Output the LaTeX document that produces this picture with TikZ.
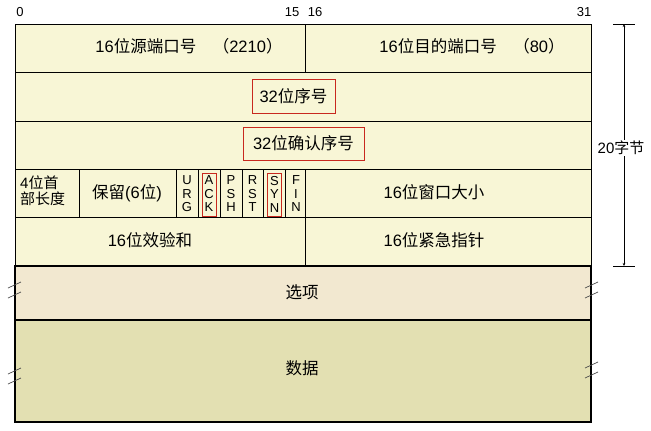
\documentclass[tikz,border=0pt]{standalone}
\usepackage{fontspec}
\setmainfont{Liberation Sans}
\newfontfamily\cjk{Noto Sans CJK SC}
\usetikzlibrary{arrows.meta}
\definecolor{hdryellow}{RGB}{248,246,214}
\definecolor{optbeige}{RGB}{242,232,208}
\definecolor{dataolive}{RGB}{227,224,178}
\definecolor{markred}{RGB}{200,40,30}

\begin{document}
\begin{tikzpicture}[x=1pt,y=-1pt,
    lbl/.style={font=\fontsize{16.5}{18}\selectfont,inner sep=1pt},
    bitno/.style={font=\fontsize{13}{14}\selectfont,inner sep=1pt},
    flag/.style={font=\fontsize{13}{13.5}\selectfont,align=center,inner sep=0pt},
    redbox/.style={draw=markred,line width=0.8pt},
    brk/.style={line width=0.7pt,black!70},
    thick line/.style={line width=2.2pt}]

\useasboundingbox (0,0) rectangle (651,431);

% header: 20 bytes
\filldraw[fill=hdryellow,line width=0.8pt] (15,24) rectangle (591,266);
\foreach \y in {72,121,169,217}
  \draw[line width=0.8pt] (15,\y) -- (591,\y);
\draw[line width=0.8pt] (305,24) -- (305,72);
\draw[line width=0.8pt] (305,169) -- (305,266);
\foreach \x in {79,176,198,220,242,263,285}
  \draw[line width=0.8pt] (\x,169) -- (\x,217);

% options and data
\filldraw[fill=optbeige,thick line] (15,266) rectangle (591,320);
\filldraw[fill=dataolive,thick line] (15,320) rectangle (591,422);

% bit numbers
\node[bitno] (b0) at (20,12) {0};
\node[bitno] (b15) at (292,12) {15};
\node[bitno] (b16) at (315,12) {16};
\node[bitno] (b31) at (584,12) {31};

% fields
\node[lbl] (srcport) at (189,46) {16{\cjk 位源端口号　（}2210{\cjk ）}};
\node[lbl] (dstport) at (472,46) {16{\cjk 位目的端口号　（}80{\cjk ）}};
\node[lbl,redbox,minimum width=83,minimum height=34] (seqno) at (293.5,96) {32{\cjk 位序号}};
\node[lbl,redbox,minimum width=121,minimum height=33] (ackno) at (303.5,143.5) {32{\cjk 位确认序号}};
\node[lbl,font=\fontsize{15}{16}\selectfont,align=left,anchor=west] (hlen) at (19,191) {4{\cjk 位首}\\{\cjk 部长度}};
\node[lbl] (rsv) at (127,193) {{\cjk 保留}(6{\cjk 位})};
\foreach \n/\x/\t in {urg/187/U\\R\\G, ack/209/A\\C\\K, psh/231/P\\S\\H,
                      rst/252.5/R\\S\\T, syn/274.5/S\\Y\\N, fin/296/F\\I\\N}
  \node[flag] (\n) at (\x,194) {\t};
\node[redbox,minimum width=14,minimum height=43] (ackmark) at (209,194.5) {};
\node[redbox,minimum width=14,minimum height=43] (synmark) at (274.5,194.5) {};
\node[lbl] (win) at (434,192) {16{\cjk 位窗口大小}};
\node[lbl] (csum) at (150,240) {16{\cjk 位效验和}};
\node[lbl] (urgp) at (434,240) {16{\cjk 位紧急指针}};
\node[lbl] (opt) at (302,292) {\cjk 选项};
\node[lbl] (data) at (302,368) {\cjk 数据};

% header length
\coordinate (dimtop) at (624,24);
\coordinate (dimbot) at (624,266);
\node[lbl,font=\fontsize{15}{16}\selectfont] (hdrlen) at (621,148) {20{\cjk 字节}};
\draw[-{Stealth[length=3pt,width=2.5pt]}] (dimtop |- hdrlen.north) -- (dimtop);
\draw[-{Stealth[length=3pt,width=2.5pt]}] (dimbot |- hdrlen.south) -- (dimbot);
\draw ([xshift=-11pt]dimtop) -- ([xshift=11pt]dimtop);
\draw ([xshift=-11pt]dimbot) -- ([xshift=11pt]dimbot);

% break marks
\foreach \y in {288,298,374,384}
  \draw[brk] (8,\y) -- (21,\y-6);
\foreach \y in {288,298,368,378}
  \draw[brk] (585,\y) -- (598,\y-6);
\end{tikzpicture}
\end{document}
